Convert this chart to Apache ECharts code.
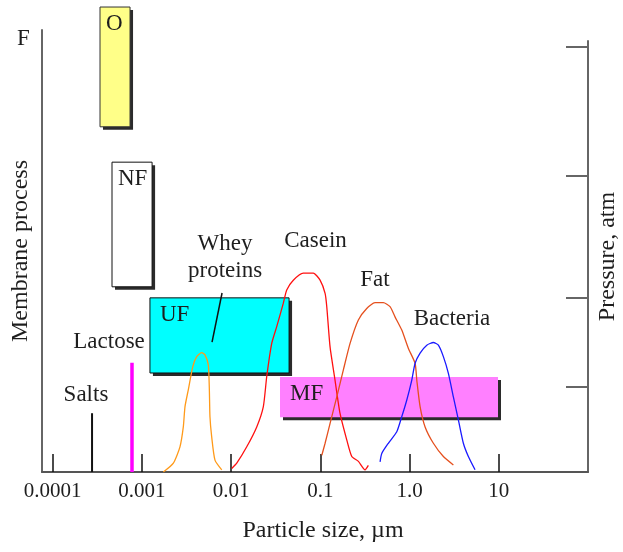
<!DOCTYPE html>
<html>
<head>
<meta charset="utf-8">
<script src="https://cdn.jsdelivr.net/npm/echarts@6/dist/echarts.min.js"></script>
<style>
  html, body { margin: 0; padding: 0; background: #fff; }
  #chart { width: 623px; height: 552px; }
</style>
</head>
<body>
<div id="chart"></div>
<script>
// particle size axis (um, log) and its labels
const xTickValues = [0.0001, 0.001, 0.01, 0.1, 1, 10];
const xTickLabels = ["0.0001", "0.001", "0.01", "0.1", "1.0", "10"];
// pressure axis ticks (same vertical units as the process axis)
const pressureTicks = [96.2, 67.0, 39.4, 19.2];

// membrane processes: size range and vertical extent
const processNames = ["O", "NF", "UF", "MF"];
const processSizeFrom = [3.39e-4, 4.62e-4, 1.23e-3, 0.0353];
const processSizeTo = [7.36e-4, 1.30e-3, 0.0446, 9.8];
const processLow = [78.1, 41.9, 22.4, 12.4];
const processHigh = [105.2, 70.1, 39.4, 21.5];

// particle size distributions [size, height]
const whey = [[0.00174, 0], [0.00225, 2.0], [0.00267, 5.7], [0.00291, 10.2], [0.00304, 14.8], [0.00331, 18.6],
  [0.00371, 23.8], [0.00411, 26.1], [0.00468, 27.0], [0.00509, 26.5], [0.00555, 24.2], [0.0057, 18.6],
  [0.00579, 12.5], [0.00605, 8.0], [0.00659, 2.7], [0.00785, 0.5]];
const casein = [[0.01016, 0.8], [0.01156, 2.0], [0.01496, 5.7], [0.01936, 10.2], [0.02296, 14.8], [0.02506, 21.6],
  [0.02851, 29.1], [0.03243, 32.9], [0.03846, 38.2], [0.04198, 41.2], [0.04977, 43.4], [0.0644, 45.0],
  [0.0834, 45.0], [0.0993, 43.4], [0.113, 40.4], [0.118, 37.4], [0.1285, 28.3], [0.146, 20.8], [0.166, 13.3],
  [0.198, 7.2], [0.225, 3.5], [0.267, 2.4], [0.317, 0.5], [0.345, 1.5]];
const fat = [[0.1038, 3.8], [0.113, 6.5], [0.1285, 11.0], [0.1528, 17.0], [0.1811, 23.1], [0.2153, 29.1],
  [0.2667, 34.4], [0.331, 37.0], [0.41, 38.3], [0.508, 38.3], [0.604, 37.4], [0.687, 35.1], [0.818, 32.1],
  [0.968, 28.0], [1.153, 24.6], [1.205, 20.8], [1.312, 14.8], [1.493, 10.2], [1.849, 6.5], [2.393, 3.5], [3.097, 1.6]];
const bacteria = [[0.467, 2.3], [0.488, 4.2], [0.578, 6.5], [0.719, 9.1], [0.817, 12.5], [0.931, 16.3],
  [1.059, 20.8], [1.153, 24.6], [1.312, 26.9], [1.56, 28.7], [1.849, 29.3], [2.104, 28.7], [2.393, 26.1],
  [2.723, 22.3], [3.097, 17.0], [3.524, 11.8], [4.009, 6.5], [4.56, 3.5], [5.42, 0.5]];

// single sizes (salts, lactose) and the whey pointer
const salts = [[2.76e-4, 0], [2.76e-4, 13.3]];
const lactose = [[7.74e-4, 0], [7.74e-4, 24.7]];
const wheyPointer = [[0.00791, 40.5], [0.00611, 29.4]];

// annotations
const noteText = ["Salts", "Lactose", "Whey\nproteins", "Casein", "Fat", "Bacteria"];
const noteAt = [[2.36e-4, 17.4], [4.28e-4, 29.4], [0.00855, 48.5], [0.0883, 52.3], [0.41, 43.4], [2.99, 34.6]];

const serif = "Liberation Serif";
const ink = "#1e1e1e";
const boxColors = ["#ffff88", "#ffffff", "#00ffff", "#ff80ff"];
const boxBorder = ["#333", "#111", "#111", null];

const chart = echarts.init(document.getElementById("chart"));

const boxData = processNames.map((n, i) => [processSizeFrom[i], processSizeTo[i], processLow[i], processHigh[i], n]);

function renderBox(params, api) {
  const i = params.dataIndex;
  const tl = api.coord([api.value(0), api.value(3)]);
  const br = api.coord([api.value(1), api.value(2)]);
  const w = br[0] - tl[0];
  const h = br[1] - tl[1];
  return {
    type: "group",
    children: [
      { type: "rect", shape: { x: tl[0] + 3, y: tl[1] + 3, width: w, height: h }, style: { fill: "#2b2b2b" } },
      {
        type: "rect",
        shape: { x: tl[0], y: tl[1], width: w, height: h },
        style: { fill: boxColors[i], stroke: boxBorder[i], lineWidth: boxBorder[i] ? 1 : 0 }
      },
      {
        type: "text",
        x: tl[0] + (w < 50 ? 6 : 10),
        y: tl[1] + 17,
        style: {
          text: processNames[i], fill: ink, font: "23px " + serif,
          align: "left", verticalAlign: "middle"
        }
      }
    ]
  };
}

function curve(name, data, color) {
  return {
    name: name, type: "line", data: data, xAxisIndex: 0, yAxisIndex: 0,
    showSymbol: false, smooth: 0.2, z: 5,
    lineStyle: { color: color, width: 1.3 }
  };
}

chart.setOption({
  animation: false,
  grid: [
    { left: 42, right: 35, top: 30, bottom: 80, outerBoundsMode: "none" },
    { left: 42, right: 35, top: 41, bottom: 80, outerBoundsMode: "none" }
  ],
  graphic: [
    { type: "text", left: 17, top: 27, style: { text: "F", font: "23px " + serif, fill: ink } }
  ],
  xAxis: [
    {
      type: "log", gridIndex: 0, min: Math.pow(10, -4.12), max: 100,
      name: "Particle size, \u00b5m", nameLocation: "middle", nameGap: 47,
      nameTextStyle: { fontFamily: serif, fontSize: 24, color: ink, padding: [0, 0, 0, 16] },
      axisLine: { lineStyle: { color: "#555", width: 2 } },
      axisTick: { inside: true, length: 18, customValues: xTickValues, lineStyle: { color: "#111", width: 1.5 } },
      axisLabel: {
        margin: 9, fontFamily: serif, fontSize: 21, color: ink,
        formatter: function (v) {
          const k = xTickValues.findIndex(t => Math.abs(Math.log10(t) - Math.log10(v)) < 1e-6);
          return k >= 0 ? xTickLabels[k] : "";
        }
      },
      splitLine: { show: false }
    },
    {
      type: "log", gridIndex: 1, min: Math.pow(10, -4.12), max: 100, show: false
    }
  ],
  yAxis: [
    {
      type: "value", gridIndex: 0, min: 0, max: 100,
      name: "Membrane process", nameLocation: "middle", nameGap: 9, nameRotate: 90,
      nameTextStyle: { fontFamily: serif, fontSize: 24, color: ink },
      axisLine: { show: true, lineStyle: { color: "#666", width: 2 } },
      axisTick: { show: false }, axisLabel: { show: false }, splitLine: { show: false }
    },
    {
      type: "value", gridIndex: 1, position: "right", min: 0, max: 97.5,
      name: "Pressure, atm", nameLocation: "middle", nameGap: 8, nameRotate: 90,
      nameTextStyle: { fontFamily: serif, fontSize: 24, color: ink },
      axisLine: { show: true, lineStyle: { color: "#666", width: 2 } },
      axisTick: { show: true, inside: true, length: 22, customValues: pressureTicks, lineStyle: { color: "#666", width: 2 } },
      axisLabel: { show: false }, splitLine: { show: false }
    }
  ],
  series: [
    {
      type: "custom", xAxisIndex: 0, yAxisIndex: 0, clip: false, z: 2,
      renderItem: renderBox, data: boxData
    },
    {
      type: "line", data: salts, showSymbol: false, z: 4,
      lineStyle: { color: "#111", width: 2 }
    },
    {
      type: "line", data: lactose, showSymbol: false, z: 4,
      lineStyle: { color: "#ff00ff", width: 3.5 }
    },
    {
      type: "line", data: wheyPointer, showSymbol: false, z: 4,
      lineStyle: { color: "#111", width: 1.5 }
    },
    curve("Whey proteins", whey, "#ff9a1a"),
    curve("Casein", casein, "#ff1010"),
    curve("Fat", fat, "#e5501e"),
    curve("Bacteria", bacteria, "#1a1aff"),
    {
      type: "scatter", symbolSize: 0, z: 6, clip: false,
      itemStyle: { opacity: 1 },
      data: noteAt.map((p, i) => ({ value: p, name: noteText[i] })),
      label: {
        show: true, position: [0, 0], align: "center", verticalAlign: "middle",
        formatter: "{b}", fontFamily: serif, fontSize: 23, color: ink, lineHeight: 27, opacity: 1
      }
    }
  ]
});
</script>
</body>
</html>
